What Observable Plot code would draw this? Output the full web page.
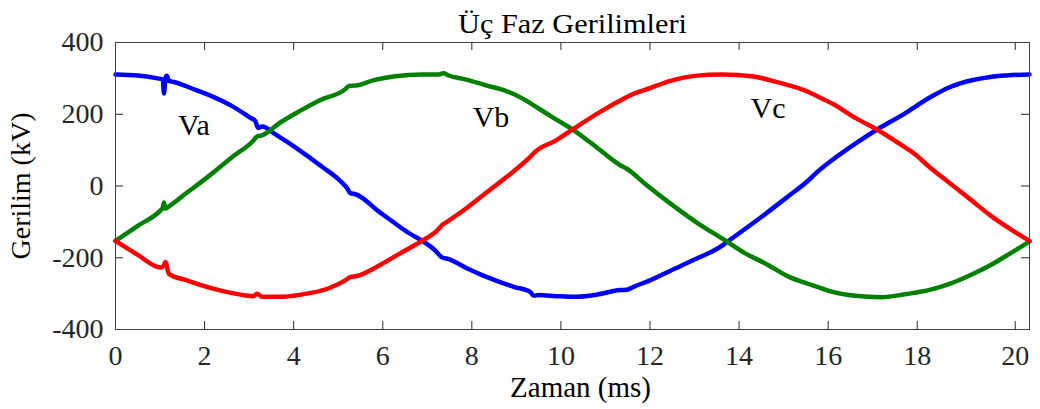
<!DOCTYPE html>
<html>
<head>
<meta charset="utf-8">
<script src="https://cdn.jsdelivr.net/npm/d3@7"></script>
<script src="https://cdn.jsdelivr.net/npm/@observablehq/plot@0.6"></script>
<style>
  body { margin: 0; background: #fff; }
</style>
</head>
<body>
<div id="chart"></div>
<script>
// Three-phase voltages over one cycle (time in ms, voltage in kV)
const title = "Üç Faz Gerilimleri";
const xLabel = "Zaman (ms)";
const yLabel = "Gerilim (kV)";

const xTicks = [0, 2, 4, 6, 8, 10, 12, 14, 16, 18, 20.2];
const xTickLabels = ["0", "2", "4", "6", "8", "10", "12", "14", "16", "18", "20"];
const yTicks = [-400, -200, 0, 200, 400];

// Phase A
const vaT = [0, 0.5, 0.95, 1.06, 1.09, 1.12, 1.15, 1.2, 1.31, 1.8, 2.13, 2.6, 3.03, 3.14, 3.2, 3.29, 3.6, 4.15, 4.6,
  5.09, 5.2, 5.27, 5.39, 5.9, 6.5, 7.18, 7.33, 7.48, 7.9, 8.3, 8.94, 9.31, 9.39, 9.5, 9.9, 10.29, 10.8, 11.33, 11.48,
  11.63, 12.0, 12.46, 13.0, 13.62, 13.73, 14.59, 15.1, 15.56, 15.71, 16.1, 16.61, 17.17, 17.77, 17.88, 18.3, 18.74,
  19.2, 19.64, 20.0, 20.52];
const vaV = [311, 308, 300, 297, 258, 300, 307, 293, 290, 268, 252, 224, 190, 181, 162, 166, 143, 98, 57,
  9, -6, -20, -23, -70, -124, -180, -199, -204, -230, -252, -281, -295, -306, -304, -307, -309, -303, -290, -289,
  -281, -263, -236, -205, -166, -156, -78, -29, 16, 34, 73, 118, 163, 206, 215, 248, 276,
  294, 304, 308, 311];

// Phase B
const vbT = [0, 0.5, 1.01, 1.06, 1.09, 1.12, 1.16, 1.6, 2.13, 2.6, 3.1, 3.18, 3.29, 3.7, 4.15, 4.6, 5.16, 5.24, 5.39,
  5.8, 6.28, 6.88, 7.26, 7.36, 7.48, 7.9, 8.3, 8.79, 9.39, 9.5, 9.9, 10.29, 10.8, 11.33, 11.48, 11.9, 12.46, 13.1,
  13.68, 14.1, 14.59, 15.1, 15.71, 16.1, 16.61, 17.17, 17.77, 18.3, 18.74, 19.2, 19.64, 20.1, 20.52];
const vbV = [-153, -111, -68, -61, -46, -63, -60, -19, 31, 79, 127, 138, 141, 177, 210, 240, 270, 279, 280,
  295, 306, 311, 311, 314, 308, 296, 281, 264, 225, 216, 185, 155, 108, 58, 48, 5, -49, -106,
  -151, -185, -216, -252, -279, -295, -306, -310, -301, -289, -272, -248, -221, -187, -155];

// Phase C
const vcT = [0, 0.5, 1.01, 1.08, 1.12, 1.2, 1.6, 2.13, 2.6, 3.1, 3.18, 3.29, 3.7, 4.15, 4.79, 5.16, 5.27, 5.42, 5.9,
  6.4, 6.84, 7.26, 7.33, 7.44, 7.9, 8.3, 8.8, 9.31, 9.42, 9.9, 10.29, 10.9, 11.48, 11.56, 12.0, 12.46, 13.01, 13.62,
  14.29, 14.9, 15.56, 15.71, 16.1, 16.61, 17.17, 17.77, 17.88, 18.3, 18.74, 19.2, 19.64, 20.1, 20.52];
const vcV = [-153, -192, -227, -223, -212, -245, -263, -284, -298, -307, -300, -309, -309, -303, -285, -263, -254, -251, -223,
  -187, -156, -119, -109, -100, -60, -21, 27, 81, 95, 128, 160, 208, 248, 253, 273, 293, 307, 311,
  306, 288, 262, 253, 229, 190, 152, 104, 95, 50, 7, -38, -82, -121, -153];

// Curve name labels placed on the plot (time, voltage)
const labelText = ["Va", "Vb", "Vc"];
const labelT = [1.76, 8.43, 14.65];
const labelV = [169, 192, 216];

const phaseColors = ["#0000ff", "#008000", "#ff0000"];

const rows = (t, v, phase) => t.map((ti, i) => ({t: ti, v: v[i], phase}));
const series = [
  ...rows(vaT, vaV, "Va"),
  ...rows(vbT, vbV, "Vb"),
  ...rows(vcT, vcV, "Vc")
];
const labels = labelText.map((s, i) => ({s, t: labelT[i], v: labelV[i]}));

const W = 1040, H = 409;
const mL = 115, mR = 11, mT = 42, mB = 80;
const frameW = W - mL - mR, frameH = H - mT - mB;
const tick = 8;
const axisColor = "#262626";
const serif = "'Liberation Serif', 'Times New Roman', Times, serif";

const chart = Plot.plot({
  width: W,
  height: H,
  marginLeft: mL,
  marginRight: mR,
  marginTop: mT,
  marginBottom: mB,
  style: {fontFamily: serif, fontSize: "28px", color: axisColor, background: "#fff"},
  x: {domain: [0, 20.52]},
  y: {domain: [-400, 400]},
  color: {domain: ["Va", "Vb", "Vc"], range: phaseColors},
  marks: [
    // inward tick marks on all four sides
    Plot.tickX(xTicks, {x: d => d, insetTop: frameH - tick, stroke: axisColor, strokeWidth: 1}),
    Plot.tickX(xTicks, {x: d => d, insetBottom: frameH - tick, stroke: axisColor, strokeWidth: 1}),
    Plot.tickY(yTicks, {y: d => d, insetRight: frameW - tick, stroke: axisColor, strokeWidth: 1}),
    Plot.tickY(yTicks, {y: d => d, insetLeft: frameW - tick, stroke: axisColor, strokeWidth: 1}),
    Plot.axisX(xTicks, {
      tickSize: 0, tickPadding: 16, label: null,
      tickFormat: d => xTickLabels[xTicks.indexOf(d)],
      fontSize: 28
    }),
    Plot.axisY(yTicks, {tickSize: 0, tickPadding: 12, label: null, tickFormat: d => String(d), fontSize: 28}),
    Plot.line(series, {
      x: "t", y: "v", z: "phase", stroke: "phase",
      strokeWidth: 4.5, curve: "monotone-x", strokeLinejoin: "round", strokeLinecap: "round"
    }),
    Plot.text(labels, {x: "t", y: "v", text: "s", fontSize: 30, fill: "black", textAnchor: "middle", lineAnchor: "middle"}),
    Plot.frame({stroke: "#404040", strokeWidth: 1}),
    Plot.text([title], {frameAnchor: "top", dy: -10, lineAnchor: "bottom", fontSize: 28, fill: "black"}),
    Plot.text([xLabel], {frameAnchor: "bottom", dx: 8, dy: 67, lineAnchor: "bottom", fontSize: 29, fill: "black"}),
    Plot.text([yLabel], {frameAnchor: "left", dx: -94, rotate: -90, textAnchor: "middle", lineAnchor: "middle", fontSize: 28, fill: "black"})
  ]
});

// the title is set wider, in the same serif face
d3.select(chart).selectAll("text")
  .filter(function () { return this.textContent === title; })
  .attr("textLength", 229)
  .attr("lengthAdjust", "spacingAndGlyphs");

document.getElementById("chart").appendChild(chart);
</script>
</body>
</html>
